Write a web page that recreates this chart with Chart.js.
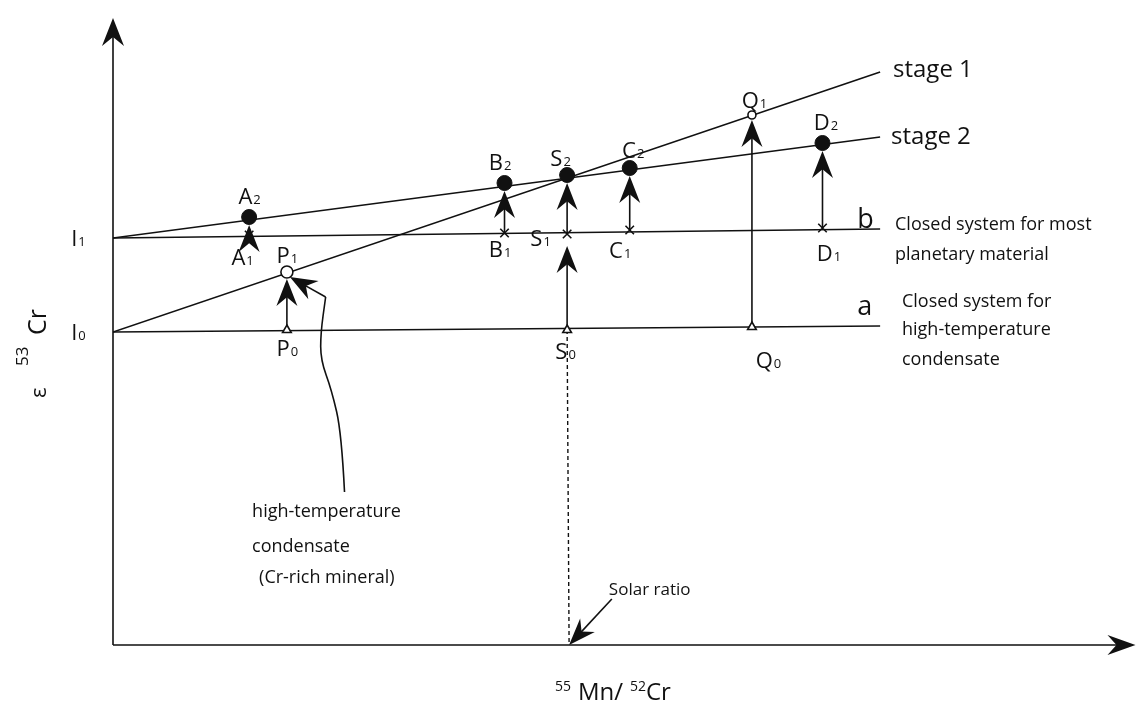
<!DOCTYPE html>
<html>
<head>
<meta charset="utf-8">
<script src="https://cdn.jsdelivr.net/npm/chart.js@4.4.1/dist/chart.umd.min.js"></script>
<style>
  body { margin: 0; background: #fff; }
  canvas { display: block; }
</style>
</head>
<body>
<canvas id="crChart" width="1144" height="704"></canvas>
<script>
// schematic units: x = 55Mn/52Cr, y = e53Cr
var lineNames = ["stage 1", "stage 2", "b", "a"];
var lineStartY = [313, 407, 407, 313];
var lineEndX = 772;
var lineEndY = [573, 508, 416, 319];

var dotLabels = ["A2", "B2", "S2", "C2", "D2"];
var dotX = [137, 394, 457, 520, 714];
var dotY = [428, 462, 470, 477, 502];

var crossLabels = ["A1", "B1", "S1", "C1", "D1"];
var crossX = [137, 394, 457, 520, 714];
var crossY = [410, 412, 411, 415, 417];

var ringLabels = ["P1", "Q1"];
var ringX = [175, 643];
var ringY = [373, 530];

var triLabels = ["P0", "S0", "Q0"];
var triX = [175, 457, 643];
var triY = [315, 315, 318];

var arrowFrom = ["A1", "P0", "B1", "S0", "S1", "C1", "Q0", "D1"];
var arrowTo = ["A2", "P1", "B2", "S1", "S2", "C2", "Q1", "D2"];

var solarX = 457;
var xMax = 1029, yMax = 627;

// where the point names sit, px offset from the point
var labelOffset = {
  A2: [0, -21], A1: [-7, 22], P1: [0, -17], P0: [0, 18],
  B2: [-5, -21], B1: [-5, 16], S2: [-7, -17], S1: [-27, 4], S0: [-2, 21],
  C2: [3, -18], C1: [-10, 20], Q1: [2, -15], Q0: [16, 33], D2: [3, -21], D1: [6, 25]
};

var black = "#111";
var font = "'Open Sans', 'DejaVu Sans', sans-serif";

var pts = {};
function addPts(labels, xs, ys, gap) {
  labels.forEach(function (l, i) { pts[l] = { x: xs[i], y: ys[i], gap: gap }; });
}
addPts(dotLabels, dotX, dotY, 8);
addPts(crossLabels, crossX, crossY, 12);
addPts(ringLabels, ringX, ringY, 7);
addPts(triLabels, triX, triY, 5);
pts.Q1.gap = 5;

function xy(xs, ys) {
  return xs.map(function (x, i) { return { x: x, y: ys[i] }; });
}

var datasets = [];
lineNames.forEach(function (n, i) {
  datasets.push({
    label: n, data: [{ x: 0, y: lineStartY[i] }, { x: lineEndX, y: lineEndY[i] }],
    showLine: true, borderColor: black, borderWidth: 1.6, pointRadius: 0, order: 2
  });
});
datasets.push({
  label: "solar", data: [{ x: solarX, y: triY[1] }, { x: solarX + 2, y: 0 }],
  showLine: true, borderColor: black, borderWidth: 1.4, borderDash: [4, 3], pointRadius: 0, order: 2
});
datasets.push({
  label: "dots", data: xy(dotX, dotY), pointStyle: "circle", pointRadius: 7.5,
  backgroundColor: black, borderColor: black, borderWidth: 1, order: 0
});
datasets.push({
  label: "crosses", data: xy(crossX, crossY), pointStyle: "crossRot", pointRadius: 6,
  borderColor: black, borderWidth: 1.6, order: 0
});
datasets.push({
  label: "rings", data: xy(ringX, ringY), pointStyle: "circle", pointRadius: [6, 4],
  backgroundColor: "#fff", borderColor: black, borderWidth: 1.6, order: 0
});
datasets.push({
  label: "triangles", data: xy(triX, triY), pointStyle: "triangle", pointRadius: 5,
  backgroundColor: "#fff", borderColor: black, borderWidth: 1.6, order: 0
});

function arrowHead(ctx, x, y, ang, len, half) {
  ctx.save();
  ctx.translate(x, y);
  ctx.rotate(ang);
  ctx.beginPath();
  ctx.moveTo(0, 0);
  ctx.lineTo(-len, -half);
  ctx.lineTo(-len * 0.68, 0);
  ctx.lineTo(-len, half);
  ctx.closePath();
  ctx.fill();
  ctx.restore();
}

function arrow(ctx, x1, y1, x2, y2, len, half) {
  var ang = Math.atan2(y2 - y1, x2 - x1);
  ctx.beginPath();
  ctx.moveTo(x1, y1);
  ctx.lineTo(x2 - Math.cos(ang) * len * 0.6, y2 - Math.sin(ang) * len * 0.6);
  ctx.stroke();
  arrowHead(ctx, x2, y2, ang, len, half);
}

function subText(ctx, txt, cx, cy, size) {
  var main = txt.charAt(0), sub = txt.slice(1);
  ctx.font = "500 " + size + "px " + font;
  var wm = ctx.measureText(main).width;
  ctx.font = "500 " + Math.round(size * 0.6) + "px " + font;
  var ws = ctx.measureText(sub).width;
  var x0 = cx - (wm + ws) / 2, base = cy + size * 0.36;
  ctx.textAlign = "left";
  ctx.textBaseline = "alphabetic";
  ctx.font = "500 " + size + "px " + font;
  ctx.fillText(main, x0, base);
  ctx.font = "500 " + Math.round(size * 0.6) + "px " + font;
  ctx.fillText(sub, x0 + wm + 1, base);
}

var notes = [
  ["stage 1", 785, 575, 24], ["stage 2", 783, 508, 24],
  ["b", 749, 425, 27], ["a", 749, 338, 27],
  ["Closed system for most", 787, 420, 18], ["planetary material", 787, 390, 18],
  ["Closed system for", 794, 343, 18], ["high-temperature", 794, 315, 18], ["condensate", 794, 285, 18],
  ["high-temperature", 140, 133, 18], ["condensate", 140, 98, 18], ["(Cr-rich mineral)", 147, 67, 18],
  ["Solar ratio", 499, 55, 17]
];
var leaderX = [233, 230, 220, 209, 209, 214];
var leaderY = [153, 212, 255, 285, 312, 348];
var leaderTip = [178, 368];
var solarFrom = [502, 46];

var diagram = {
  id: "diagram",
  afterDatasetsDraw: function (chart) {
    var ctx = chart.ctx, sx = chart.scales.x, sy = chart.scales.y, a = chart.chartArea;
    var px = function (v) { return sx.getPixelForValue(v); };
    var py = function (v) { return sy.getPixelForValue(v); };
    ctx.save();
    ctx.strokeStyle = black;
    ctx.fillStyle = black;
    ctx.lineWidth = 1.6;

    // axes with arrow heads
    ctx.beginPath();
    ctx.moveTo(a.left, a.bottom); ctx.lineTo(a.right - 10, a.bottom);
    ctx.moveTo(a.left, a.bottom); ctx.lineTo(a.left, a.top + 10);
    ctx.stroke();
    arrowHead(ctx, a.right, a.bottom, 0, 28, 10);
    arrowHead(ctx, a.left, a.top, -Math.PI / 2, 28, 11);

    // growth arrows
    arrowFrom.forEach(function (f, i) {
      var p = pts[f], q = pts[arrowTo[i]];
      var x1 = px(p.x), y1 = py(p.y) - (p.gap === 5 ? 5 : 0);
      var x2 = px(q.x), y2 = py(q.y) + q.gap;
      arrow(ctx, x1, y1, x2, y2, 27, 10.5);
    });

    // leader to P1
    ctx.beginPath();
    ctx.moveTo(px(leaderX[0]), py(leaderY[0]));
    for (var i = 1; i < leaderX.length - 1; i++) {
      var mx = (px(leaderX[i]) + px(leaderX[i + 1])) / 2, my = (py(leaderY[i]) + py(leaderY[i + 1])) / 2;
      ctx.quadraticCurveTo(px(leaderX[i]), py(leaderY[i]), mx, my);
    }
    var n = leaderX.length - 1;
    ctx.lineTo(px(leaderX[n]), py(leaderY[n]));
    ctx.stroke();
    arrow(ctx, px(leaderX[n]), py(leaderY[n]), px(leaderTip[0]), py(leaderTip[1]), 27, 10.5);

    // solar ratio arrow
    arrow(ctx, px(solarFrom[0]), py(solarFrom[1]), px(solarX + 2), py(0), 27, 10);

    // point names
    Object.keys(labelOffset).forEach(function (k) {
      var o = labelOffset[k];
      subText(ctx, k, px(pts[k].x) + o[0], py(pts[k].y) + o[1], 22);
    });
    subText(ctx, "I1", a.left - 35, py(lineStartY[1]), 22);
    subText(ctx, "I0", a.left - 35, py(lineStartY[0]), 22);

    // notes
    ctx.textAlign = "left";
    ctx.textBaseline = "middle";
    notes.forEach(function (t) {
      ctx.font = "500 " + t[3] + "px " + font;
      ctx.fillText(t[0], px(t[1]), py(t[2]));
    });

    // axis titles
    ctx.textBaseline = "alphabetic";
    ctx.font = "500 14px " + font; ctx.fillText("55", 555, 691);
    ctx.font = "500 24px " + font; ctx.fillText("Mn/", 578, 700);
    ctx.font = "500 14px " + font; ctx.fillText("52", 630, 691);
    ctx.font = "500 24px " + font; ctx.fillText("Cr", 646, 700);

    ctx.translate(46, 398);
    ctx.rotate(-Math.PI / 2);
    ctx.font = "500 22px " + font; ctx.fillText("\u03b5", 0, 0);
    ctx.font = "500 17px " + font; ctx.fillText("53", 32, -18);
    ctx.font = "500 25px " + font; ctx.fillText("Cr", 63, 0);
    ctx.restore();
  }
};

var chart = new Chart(document.getElementById("crChart"), {
  type: "scatter",
  data: { datasets: datasets },
  options: {
    responsive: false,
    animation: false,
    events: [],
    layout: { padding: { left: 113, right: 2, top: 18, bottom: 59 } },
    plugins: { legend: { display: false }, tooltip: { enabled: false } },
    scales: {
      x: { type: "linear", min: 0, max: xMax, display: false },
      y: { type: "linear", min: 0, max: yMax, display: false }
    }
  },
  plugins: [diagram]
});
</script>
</body>
</html>
